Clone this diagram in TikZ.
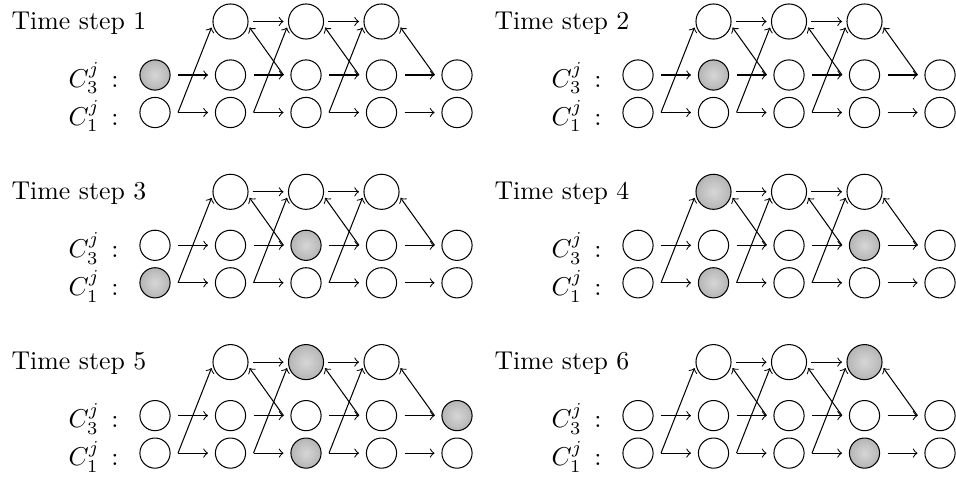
\documentclass[tikz,border=0pt]{standalone}
\usetikzlibrary{calc}
\tikzset{
  lo/.style={circle,draw,minimum size=11.7pt,inner sep=0pt},
  hi/.style={circle,draw,minimum size=13.6pt,inner sep=0pt},
  on/.style={shading=radial,inner color=black!16,outer color=black!29},
  arr/.style={->},
  lbl/.style={anchor=base east,inner sep=0pt},
  ttl/.style={anchor=base west,inner sep=0pt},
}
\newcommand\panel[4]{%
  \begin{scope}[shift={(#2,#3)}]
  \node[ttl] (#1t) at (11,29) {Time step #4};
  \node[lbl] (#1la) at (119,87) {$C_3^j\mkern8mu{:}$};
  \node[lbl] (#1lb) at (119,125) {$C_1^j\mkern8mu{:}$};
  \node[lo,#1ca/.try] (#1ca) at (155,75) {};
  \node[lo,#1cb/.try] (#1cb) at (230.5,75) {};
  \node[lo,#1cc/.try] (#1cc) at (306,75) {};
  \node[lo,#1cd/.try] (#1cd) at (381.5,75) {};
  \node[lo,#1ce/.try] (#1ce) at (457,75) {};
  \node[lo,#1da/.try] (#1da) at (155,112.5) {};
  \node[lo,#1db/.try] (#1db) at (230.5,112.5) {};
  \node[lo,#1dc/.try] (#1dc) at (306,112.5) {};
  \node[lo,#1dd/.try] (#1dd) at (381.5,112.5) {};
  \node[lo,#1de/.try] (#1de) at (457,112.5) {};
  \node[hi,#1hb/.try] (#1hb) at (230.5,21.5) {};
  \node[hi,#1hc/.try] (#1hc) at (306,21.5) {};
  \node[hi,#1hd/.try] (#1hd) at (381.5,21.5) {};
  % row C3
  \draw[arr] ($(#1ca)+(23,0)$) -- ($(#1cb)+(-22.5,0)$);
  \draw[arr] ($(#1cb)+(23,0)$) -- ($(#1cc)+(-22.5,0)$);
  \draw[arr] ($(#1cc)+(23,0)$) -- ($(#1cd)+(-22.5,0)$);
  \draw[arr] ($(#1cd)+(23,0)$) -- ($(#1ce)+(-22.5,0)$);
  % row C1
  \draw[arr] ($(#1da)+(23,0)$) -- ($(#1db)+(-22.5,0)$);
  \draw[arr] ($(#1db)+(23,0)$) -- ($(#1dc)+(-22.5,0)$);
  \draw[arr] ($(#1dc)+(23,0)$) -- ($(#1dd)+(-22.5,0)$);
  \draw[arr] ($(#1dd)+(23,0)$) -- ($(#1de)+(-22.5,0)$);
  % top row
  \draw[arr] ($(#1hb)+(22,0)$) -- ($(#1hc)+(-22.5,0)$);
  \draw[arr] ($(#1hc)+(22,0)$) -- ($(#1hd)+(-22.5,0)$);
  % C1 diagonals
  \draw[arr] ($(#1da)+(23,0)$) -- ($(#1hb)+(-19,6)$);
  \draw[arr] ($(#1db)+(23,0)$) -- ($(#1hc)+(-19,6)$);
  \draw[arr] ($(#1dc)+(23,0)$) -- ($(#1hd)+(-19,6)$);
  % C3 diagonals
  \draw[arr] ($(#1cc)+(-22.5,0)$) -- ($(#1hb)+(19,6)$);
  \draw[arr] ($(#1cd)+(-22.5,0)$) -- ($(#1hc)+(19,6)$);
  \draw[arr] ($(#1ce)+(-22.5,0)$) -- ($(#1hd)+(19,6)$);
  \end{scope}
}
\tikzset{
  Aca/.style=on,
  Bcb/.style=on,
  Cda/.style=on, Ccc/.style=on,
  Dhb/.style=on, Ddb/.style=on, Dcd/.style=on,
  Ehc/.style=on, Edc/.style=on, Ece/.style=on,
  Fhd/.style=on, Fdd/.style=on,
}
\begin{document}
\begin{tikzpicture}[x=0.3876pt,y=-0.3876pt]
\useasboundingbox (0,0) rectangle (956,476);
\panel{A}{0}{0}{1}
\panel{B}{483}{0}{2}
\panel{C}{0}{170.3}{3}
\panel{D}{483}{170.3}{4}
\panel{E}{0}{340.6}{5}
\panel{F}{483}{340.6}{6}
\end{tikzpicture}
\end{document}
